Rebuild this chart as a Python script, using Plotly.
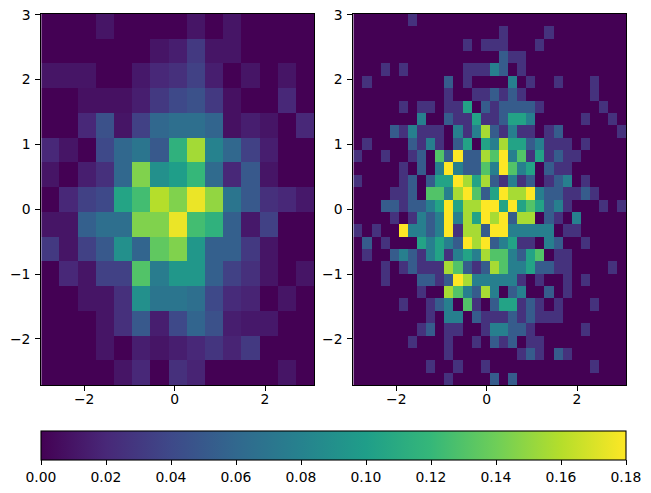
import numpy as np
import plotly.graph_objects as go

# ---------------- data ----------------
X_RANGE = [-2.95, 3.09]
Y_RANGE = [-2.71, 3.01]

# Left: 15 x 15 density histogram (row 0 = top)
left_density = [
    [0, 0, 0, 0.01, 0, 0, 0, 0, 0.01, 0, 0.01, 0, 0, 0, 0],
    [0, 0, 0, 0, 0, 0, 0.01, 0.015, 0.03, 0.01, 0.01, 0, 0, 0, 0],
    [0.01, 0.01, 0.01, 0, 0, 0.012, 0.02, 0.025, 0.035, 0.015, 0, 0.01, 0, 0.01, 0],
    [0, 0, 0.008, 0.008, 0.008, 0.015, 0.03, 0.04, 0.045, 0.03, 0.008, 0, 0, 0.02, 0],
    [0, 0, 0.02, 0.045, 0.01, 0.035, 0.06, 0.065, 0.065, 0.058, 0.008, 0.015, 0.01, 0, 0.02],
    [0.02, 0.01, 0, 0.04, 0.06, 0.07, 0.05, 0.115, 0.155, 0.08, 0.06, 0.035, 0.015, 0, 0],
    [0.01, 0, 0.015, 0.025, 0.06, 0.145, 0.09, 0.1, 0.12, 0.062, 0.02, 0.05, 0.01, 0, 0],
    [0, 0.02, 0.035, 0.04, 0.105, 0.125, 0.16, 0.145, 0.175, 0.15, 0.07, 0.05, 0.025, 0.02, 0.012],
    [0.01, 0.01, 0.055, 0.065, 0.065, 0.145, 0.145, 0.175, 0.125, 0.115, 0.055, 0.012, 0.035, 0, 0],
    [0.03, 0.01, 0.035, 0.05, 0.09, 0.058, 0.135, 0.145, 0.095, 0.055, 0.055, 0.03, 0.01, 0, 0],
    [0, 0.02, 0.01, 0.035, 0.035, 0.13, 0.075, 0.095, 0.095, 0.055, 0.035, 0.025, 0.01, 0, 0.01],
    [0, 0, 0.01, 0.01, 0.025, 0.09, 0.07, 0.07, 0.065, 0.04, 0.022, 0.018, 0, 0.01, 0],
    [0, 0, 0, 0.01, 0.025, 0.05, 0.015, 0.04, 0.058, 0.045, 0.015, 0.012, 0.012, 0, 0],
    [0, 0, 0, 0.01, 0, 0.015, 0.01, 0.015, 0.02, 0.028, 0.018, 0.03, 0, 0, 0],
    [0, 0, 0, 0, 0.01, 0.02, 0, 0.025, 0.018, 0, 0, 0, 0, 0.01, 0],
]

# Right: 30 x 30 counts per bin (row 0 = top), digits grouped by 5 columns
right_counts = [
    "00000 01000 00000 00000 00000 00000",
    "00000 00000 00000 01000 01000 00000",
    "00000 00000 00101 11000 10000 00000",
    "00000 00000 00000 02110 00000 00000",
    "00010 10000 00111 32010 00000 00000",
    "01000 00000 20100 00301 00100 01000",
    "00000 00000 10011 21210 00000 01000",
    "00000 10110 11402 12222 10000 00100",
    "00000 00300 21141 12443 00000 10010",
    "00002 13111 03136 21311 01200 00001",
    "01000 02131 02404 36442 31110 10000",
    "10010 01205 27226 57351 41211 00000",
    "00000 10203 73225 37534 02110 00000",
    "10000 12024 47646 21312 01230 10000",
    "00001 12055 36752 47667 32211 21000",
    "00022 12234 74667 74745 42310 00101",
    "00001 01323 73647 67266 02103 00000",
    "10100 73323 71662 77333 33011 00000",
    "02010 00434 32767 23411 03200 10000",
    "01002 32134 13436 55324 50110 00000",
    "00010 12111 65212 65334 22110 00010",
    "00010 00221 27633 33310 10010 10000",
    "00000 00100 65326 30230 02010 00000",
    "00000 10012 30510 24412 10100 01000",
    "00000 00010 33021 11212 11100 00000",
    "00000 00120 11001 33221 00000 10000",
    "00000 01000 10010 21201 10000 00000",
    "00000 00000 10000 00012 10210 00000",
    "00000 00010 01001 00000 00000 01000",
    "00000 00000 10000 20200 00000 00000",
]
DENSITY_PER_COUNT = 0.026

X_TICKS = [-2, 0, 2]
X_TICK_TEXT = ["\u22122", "0", "2"]
Y_TICKS = [-2, -1, 0, 1, 2, 3]
Y_TICK_TEXT = ["\u22122", "\u22121", "0", "1", "2", "3"]
CBAR_TICKS = [0.00, 0.02, 0.04, 0.06, 0.08, 0.10, 0.12, 0.14, 0.16, 0.18]

# ---------------- build ----------------
right_density = [[int(c) * DENSITY_PER_COUNT for c in row.replace(" ", "")]
                 for row in right_counts]


def edges(rng, n):
    return np.linspace(rng[0], rng[1], n + 1).tolist()


nl = len(left_density)
nr = len(right_density)

fig = go.Figure()
fig.add_trace(go.Heatmap(
    z=left_density[::-1], x=edges(X_RANGE, nl), y=edges(Y_RANGE, nl),
    coloraxis="coloraxis", xaxis="x", yaxis="y", hoverinfo="skip"))
fig.add_trace(go.Heatmap(
    z=right_density[::-1], x=edges(X_RANGE, nr), y=edges(Y_RANGE, nr),
    coloraxis="coloraxis", xaxis="x2", yaxis="y2", hoverinfo="skip"))

W, H = 651, 493
FONT = dict(family="DejaVu Sans", size=13.9, color="black")

axis_common = dict(
    showline=True, mirror=True, linecolor="black", linewidth=1.1,
    ticks="outside", ticklen=4.9, tickwidth=1.1, tickcolor="black",
    showgrid=False, zeroline=False, tickfont=FONT, automargin=False,
)
xaxis_extra = dict(tickvals=X_TICKS, ticktext=X_TICK_TEXT, ticklabelstandoff=-4)
yaxis_extra = dict(tickvals=Y_TICKS, ticktext=Y_TICK_TEXT, ticklabelstandoff=2)

ydom = [1 - 385 / H, 1 - 14 / H]
fig.update_layout(
    width=W, height=H,
    margin=dict(l=0, r=0, t=0, b=0, pad=0, autoexpand=False),
    paper_bgcolor="white", plot_bgcolor="white",
    font=FONT,
    xaxis=dict(domain=[41.2 / W, 314.3 / W], range=X_RANGE, anchor="y",
               **xaxis_extra, **axis_common),
    yaxis=dict(domain=ydom, range=Y_RANGE, anchor="x",
               **yaxis_extra, **axis_common),
    xaxis2=dict(domain=[353.3 / W, 626.3 / W], range=X_RANGE, anchor="y2",
                **xaxis_extra, **axis_common),
    yaxis2=dict(domain=ydom, range=Y_RANGE, anchor="x2",
                **yaxis_extra, **axis_common),
    coloraxis=dict(
        colorscale="Viridis", cmin=0, cmax=0.18,
        colorbar=dict(
            orientation="h",
            x=41 / W, xanchor="left", y=1 - 430.5 / H, yanchor="top",
            len=585.3, lenmode="pixels",
            thickness=29, thicknessmode="pixels",
            xpad=0, ypad=0,
            outlinecolor="black", outlinewidth=1.1,
            tickvals=CBAR_TICKS, tickformat=".2f",
            ticks="outside", ticklen=4.9, tickwidth=1.1, tickcolor="black",
            tickfont=FONT,
        ),
    ),
)

fig.write_html("out.html")
